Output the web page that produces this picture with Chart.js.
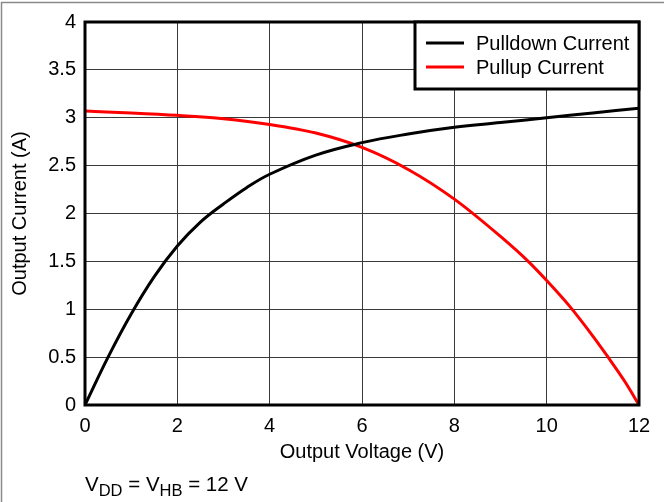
<!DOCTYPE html>
<html>
<head>
<meta charset="utf-8">
<script src="https://cdn.jsdelivr.net/npm/chart.js@4/dist/chart.umd.min.js"></script>
<style>
  html, body { margin: 0; padding: 0; background: #fff; }
  #wrap { position: relative; width: 664px; height: 502px; }
  #note { position: absolute; left: 85px; top: 473px; font-family: "Liberation Sans", Arial, sans-serif; font-size: 20.5px; color: #000; line-height: 22px; white-space: nowrap; }
  #note sub { font-size: 16.5px; vertical-align: -5px; line-height: 0; }
</style>
</head>
<body>
<div id="wrap">
  <canvas id="c" width="664" height="502"></canvas>
  <div id="note">V<sub>DD</sub> = V<sub>HB</sub> = 12 V</div>
</div>
<script>
// ---- data ----
const pulldownVoltage = [0, 0.5, 1, 1.5, 2, 2.5, 3, 3.5, 4, 5, 6, 7, 8, 9, 10, 11, 12];
const pulldownCurrent = [0, 0.50, 0.95, 1.34, 1.66, 1.91, 2.10, 2.27, 2.41, 2.61, 2.74, 2.83, 2.90, 2.95, 3.00, 3.05, 3.10];
const pullupVoltage = [0, 1, 2, 3, 4, 5, 6, 7, 8, 9, 9.6, 10, 10.5, 11, 11.3, 11.7, 12];
const pullupCurrent = [3.07, 3.05, 3.025, 2.99, 2.93, 2.84, 2.69, 2.46, 2.15, 1.76, 1.5, 1.3, 1.03, 0.72, 0.52, 0.24, 0];
const seriesLabels = ["Pulldown Current", "Pullup Current"];
const xTitle = "Output Voltage (V)";
const yTitle = "Output Current (A)";

const FONT = "'Liberation Sans', Arial, sans-serif";
const FS = 20;

const toXY = (xs, ys) => xs.map((x, i) => ({ x: x, y: ys[i] }));

const framePlugin = {
  id: 'frame',
  beforeDraw(chart) {
    const ctx = chart.ctx;
    ctx.save();
    ctx.strokeStyle = '#8a8a8a';
    ctx.lineWidth = 1.5;
    ctx.beginPath();
    ctx.moveTo(1.5, 502);
    ctx.lineTo(1.5, 2.5);
    ctx.lineTo(664, 2.5);
    ctx.stroke();
    ctx.restore();
  },
  afterDraw(chart) {
    const ctx = chart.ctx;
    const a = chart.chartArea;
    ctx.save();
    ctx.strokeStyle = '#000';
    ctx.lineWidth = 3;
    ctx.strokeRect(a.left, a.top, a.right - a.left, a.bottom - a.top);
    // legend box
    const bx = 415, by = a.top, bw = a.right - 415, bh = 67;
    ctx.fillStyle = '#fff';
    ctx.fillRect(bx, by, bw, bh);
    ctx.lineWidth = 3;
    ctx.strokeRect(bx, by, bw, bh);
    ctx.font = FS + "px " + FONT;
    ctx.textBaseline = 'middle';
    ctx.textAlign = 'left';
    chart.data.datasets.forEach((ds, i) => {
      const y = by + 21 + i * 24;
      ctx.strokeStyle = ds.borderColor;
      ctx.lineWidth = 3;
      ctx.beginPath();
      ctx.moveTo(426, y);
      ctx.lineTo(464, y);
      ctx.stroke();
      ctx.fillStyle = '#000';
      ctx.fillText(ds.label, 476, y + 1);
    });
    ctx.restore();
  }
};

new Chart(document.getElementById('c'), {
  type: 'line',
  data: {
    datasets: [
      { label: seriesLabels[0], data: toXY(pulldownVoltage, pulldownCurrent), borderColor: '#000000', borderWidth: 3, pointRadius: 0, tension: 0.4, fill: false },
      { label: seriesLabels[1], data: toXY(pullupVoltage, pullupCurrent), borderColor: '#ff0000', borderWidth: 3, pointRadius: 0, cubicInterpolationMode: 'monotone', fill: false }
    ]
  },
  options: {
    responsive: false,
    animation: false,
    devicePixelRatio: 1,
    layout: { padding: { left: 0, right: 25, top: 22, bottom: 0 } },
    plugins: { legend: { display: false }, tooltip: { enabled: false } },
    scales: {
      x: {
        type: 'linear', min: 0, max: 12,
        ticks: { stepSize: 2, color: '#000', font: { family: FONT, size: FS }, padding: 9, maxRotation: 0 },
        grid: { color: '#3a3a3a', lineWidth: 1, drawTicks: false },
        border: { display: false },
        title: { display: true, text: xTitle, color: '#000', font: { family: FONT, size: FS }, padding: { top: 0, bottom: 38 } },
        afterFit(s) { s.height = 97; }
      },
      y: {
        min: 0, max: 4,
        ticks: { stepSize: 0.5, color: '#000', font: { family: FONT, size: FS }, padding: 9, callback: (v) => String(v) },
        grid: { color: '#3a3a3a', lineWidth: 1, drawTicks: false },
        border: { display: false },
        title: { display: true, text: yTitle, color: '#000', font: { family: FONT, size: FS }, padding: { top: 8, bottom: 0 } },
        afterFit(s) { s.width = 85; }
      }
    }
  },
  plugins: [framePlugin]
});
</script>
</body>
</html>
